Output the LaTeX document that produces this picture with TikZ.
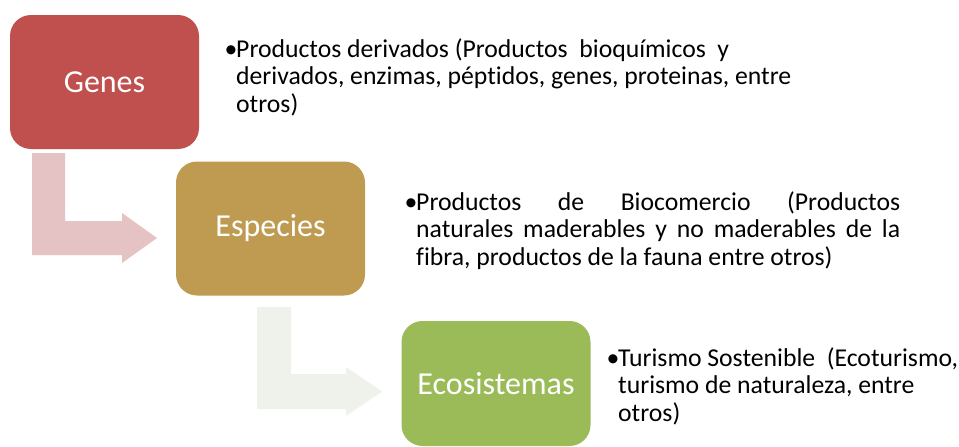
\documentclass[tikz,border=0pt]{standalone}
\usepackage{fontspec}
\setmainfont{Carlito}[Ligatures=NoCommon]
\definecolor{cgenes}{HTML}{C0504D}
\definecolor{cesp}{HTML}{BF9B52}
\definecolor{ceco}{HTML}{9BBB59}
\definecolor{carrA}{HTML}{E5C3C5}
\definecolor{carrB}{HTML}{EFF2EA}
\newcommand{\bul}{\leavevmode\llap{\makebox[11.5pt][l]{•}}}
\begin{document}
\begin{tikzpicture}[x=1pt,y=-1pt,
  box/.style={draw=none, rounded corners=21pt, minimum width=189pt, minimum height=134pt,
    text=white, font=\fontsize{32}{36}\selectfont, inner sep=0pt},
  desc/.style={inner sep=0pt, anchor=base west, text=black,
    font=\fontsize{25.7}{27.8}\selectfont}]
\useasboundingbox (0,0) rectangle (959,447);
\fill[white] (0,0) rectangle (959,447);
% arrows
\fill[carrA] (32,153) -- (65,153) -- (65,221) -- (122,221) -- (122,213) -- (157,238)
  -- (122,263) -- (122,255) -- (32,255) -- cycle;
\fill[carrB] (257,307) -- (291,307) -- (291,374) -- (346,374) -- (346,367) -- (382,391.5)
  -- (346,416) -- (346,409) -- (257,409) -- cycle;
% boxes
\node[box, fill=cgenes] (genes) at (104.5,82) {Genes};
\node[box, fill=cesp] (esp) at (270.5,228.5) {Especies};
\node[box, fill=ceco, minimum height=125pt] (eco) at (496,383.5) {Ecosistemas};
% descriptions
\node[desc] (d1) at (236,57) {\parbox[t]{600pt}{\raggedright
  \bul Productos derivados (Productos\ \ bioquímicos\ \ y\\
  derivados, enzimas, péptidos, genes, proteinas, entre\\
  otros)}};
\node[desc] (d2) at (416,210) {\parbox[t]{484pt}{\raggedright
  \bul\makebox[484pt][s]{Productos de Biocomercio (Productos}\\
  \makebox[484pt][s]{naturales maderables y no maderables de la}\\
  fibra, productos de la fauna entre otros)}};
\node[desc] (d3) at (618,366) {\parbox[t]{340pt}{\raggedright
  \bul Turismo Sostenible\ \ (Ecoturismo,\\
  turismo de naturaleza, entre\\
  otros)}};
\end{tikzpicture}
\end{document}
